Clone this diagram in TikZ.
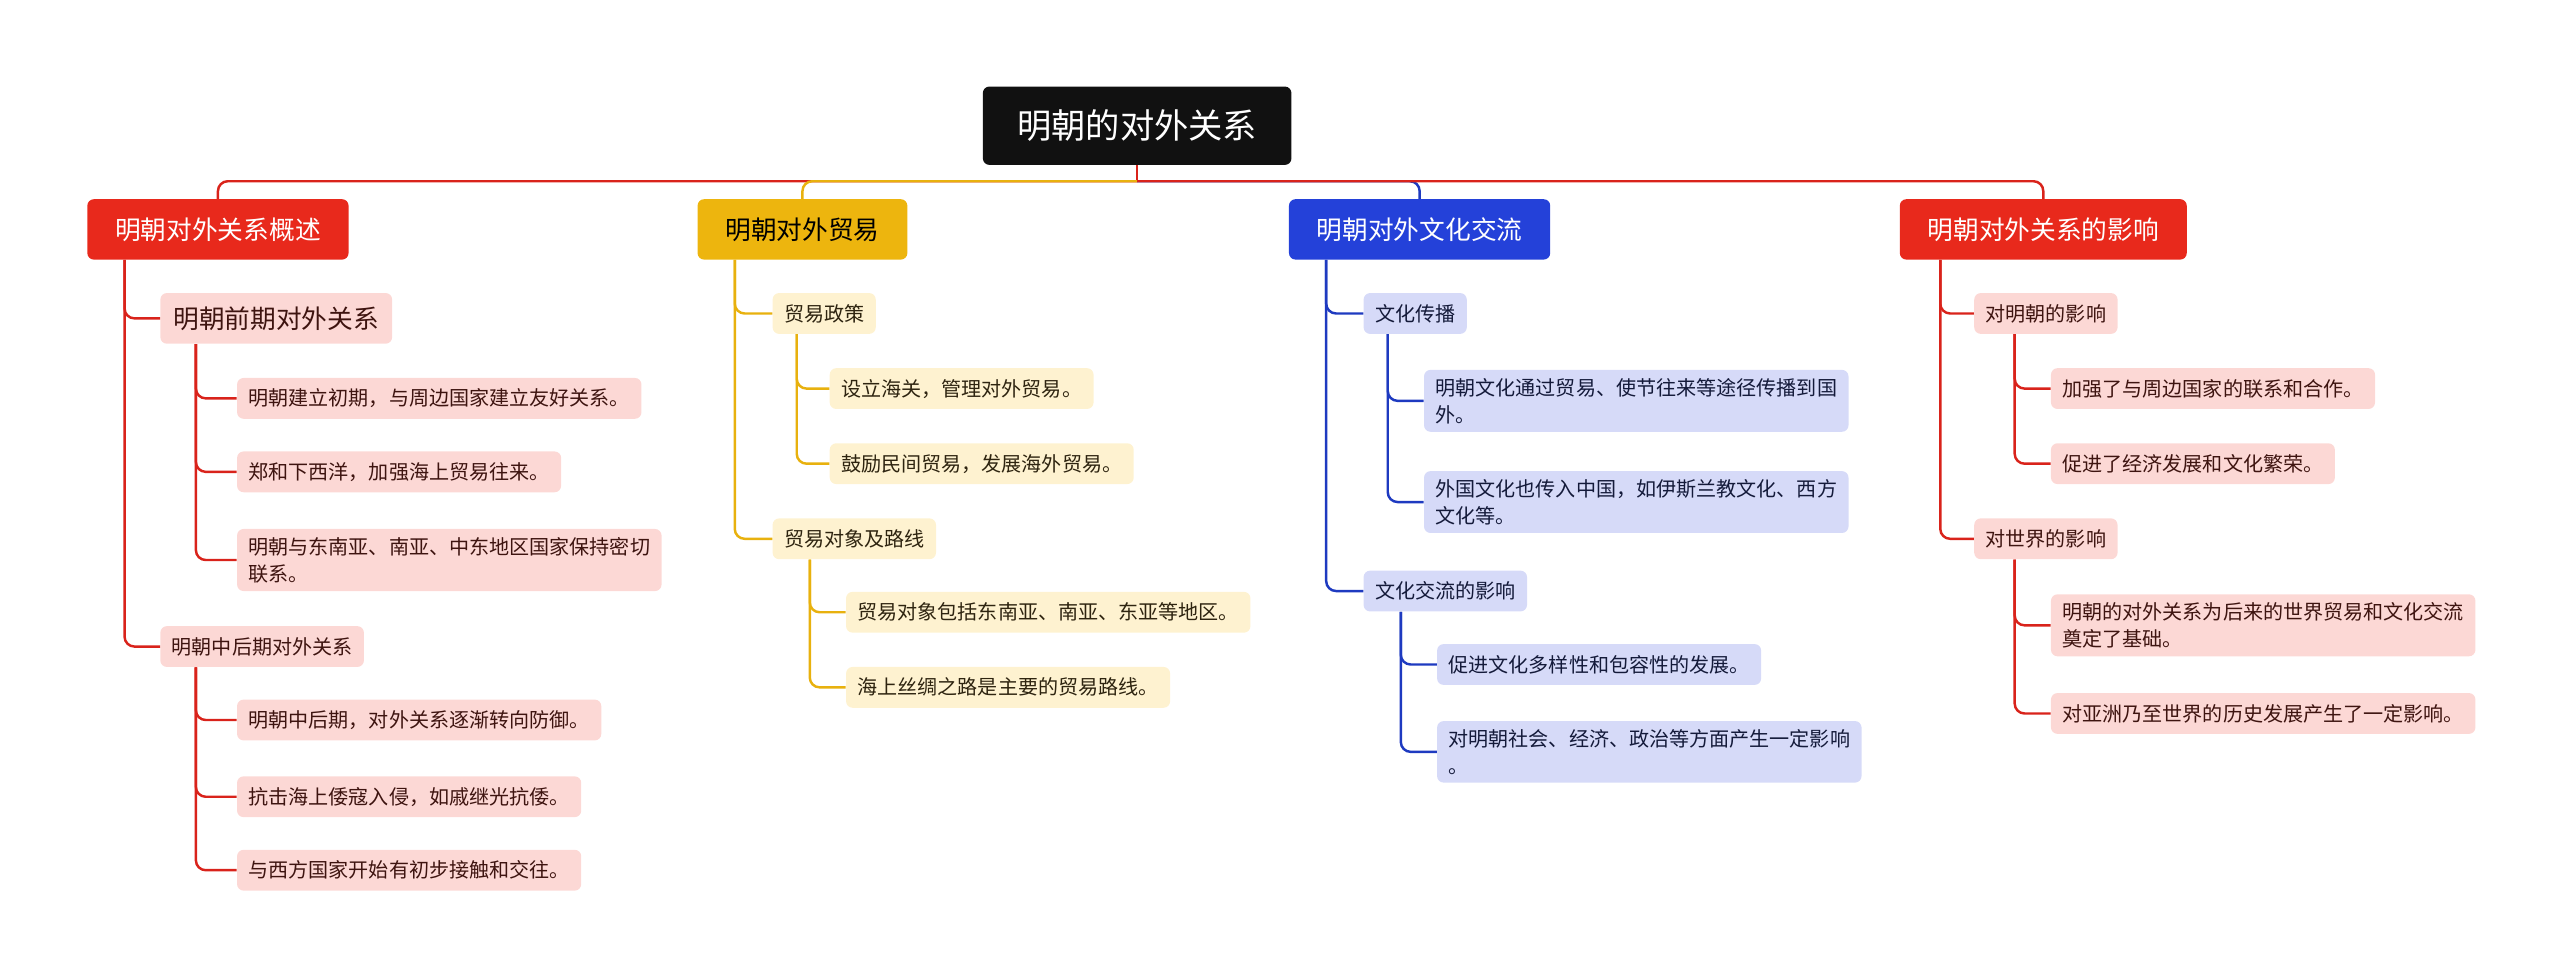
\documentclass[tikz,border=0pt]{standalone}
\usepackage{fontspec}
\setmainfont{Noto Sans CJK SC}
\definecolor{rootc}{HTML}{111111}
\definecolor{redb}{HTML}{E8291C}
\definecolor{yelb}{HTML}{EDB50E}
\definecolor{blub}{HTML}{2441D9}
\definecolor{redl}{HTML}{FCD8D5}
\definecolor{yell}{HTML}{FEF2D0}
\definecolor{blul}{HTML}{D6DAF8}
\definecolor{redline}{HTML}{D9231B}
\definecolor{yelline}{HTML}{E8B10E}
\definecolor{bluline}{HTML}{1E3AC0}
\definecolor{redtxt}{HTML}{3E1410}
\definecolor{yeltxt}{HTML}{2E2410}
\definecolor{blutxt}{HTML}{141A3A}
\begin{document}
\begin{tikzpicture}[x=1pt,y=-1pt,
  rootbox/.style={fill=rootc,text=white,rounded corners=4pt,minimum width=189pt,minimum height=48pt,font=\fontsize{21}{25}\selectfont},
  brbox/.style={rounded corners=4pt,minimum height=37pt,inner xsep=17pt,text=white,font=\fontsize{15.75}{19}\selectfont},
  bigsub/.style={rounded corners=4pt,minimum height=31pt,inner xsep=8pt,font=\fontsize{15.75}{19}\selectfont,anchor=west},
  leafbox/.style={rounded corners=4pt,minimum height=25pt,inner xsep=7pt,inner ysep=5pt,align=left,font=\fontsize{12.3}{16.5}\selectfont,anchor=west},
  rl/.style={leafbox,fill=redl,text=redtxt},
  yl/.style={leafbox,fill=yell,text=yeltxt},
  bl/.style={leafbox,fill=blul,text=blutxt},
  con/.style={line width=1.5pt,rounded corners=6pt},
  rcon/.style={con,draw=redline},
  ycon/.style={con,draw=yelline},
  bcon/.style={con,draw=bluline}
]
\useasboundingbox (0,0) rectangle (1568,600);

% root
\node[rootbox] (root) at (696.5,77) {明朝的对外关系};
\coordinate (j) at (696.5,111);

% main branches
\node[brbox,fill=redb] (b1) at (133.5,140.5) {明朝对外关系概述};
\node[brbox,fill=yelb,text=black] (b2) at (491.5,140.5) {明朝对外贸易};
\node[brbox,fill=blub] (b3) at (869.5,140.5) {明朝对外文化交流};
\node[brbox,fill=redb] (b4) at (1251.5,140.5) {明朝对外关系的影响};

\draw[rcon] (root.south) -- (j);
\draw[rcon] (j) -| (b1.north);
\draw[ycon] (j) -| (b2.north);
\draw[bcon] (j) -| (b3.north);
\draw[rcon] (j) -| (b4.north);

% branch 1
\node[bigsub,fill=redl,text=redtxt] (s11) at (98,195) {明朝前期对外关系};
\node[rl] (l111) at (145,244) {明朝建立初期，与周边国家建立友好关系。};
\node[rl] (l112) at (145,289) {郑和下西洋，加强海上贸易往来。};
\node[rl] (l113) at (145,343) {明朝与东南亚、南亚、中东地区国家保持密切\\联系。};
\node[rl] (s12) at (98,396) {明朝中后期对外关系};
\node[rl] (l121) at (145,441) {明朝中后期，对外关系逐渐转向防御。};
\node[rl] (l122) at (145,488) {抗击海上倭寇入侵，如戚继光抗倭。};
\node[rl] (l123) at (145,533) {与西方国家开始有初步接触和交往。};

\draw[rcon] ([xshift=23pt]b1.south west) |- (s11.west);
\draw[rcon] ([xshift=23pt]b1.south west) |- (s12.west);
\draw[rcon] ([xshift=22pt]s11.south west) |- (l111.west);
\draw[rcon] ([xshift=22pt]s11.south west) |- (l112.west);
\draw[rcon] ([xshift=22pt]s11.south west) |- (l113.west);
\draw[rcon] ([xshift=22pt]s12.south west) |- (l121.west);
\draw[rcon] ([xshift=22pt]s12.south west) |- (l122.west);
\draw[rcon] ([xshift=22pt]s12.south west) |- (l123.west);

% branch 2
\node[yl] (s21) at (473,192) {贸易政策};
\node[yl] (l211) at (508,238) {设立海关，管理对外贸易。};
\node[yl] (l212) at (508,284) {鼓励民间贸易，发展海外贸易。};
\node[yl] (s22) at (473,330) {贸易对象及路线};
\node[yl] (l221) at (518,375) {贸易对象包括东南亚、南亚、东亚等地区。};
\node[yl] (l222) at (518,421) {海上丝绸之路是主要的贸易路线。};

\draw[ycon] ([xshift=23pt]b2.south west) |- (s21.west);
\draw[ycon] ([xshift=23pt]b2.south west) |- (s22.west);
\draw[ycon] ([xshift=15pt]s21.south west) |- (l211.west);
\draw[ycon] ([xshift=15pt]s21.south west) |- (l212.west);
\draw[ycon] ([xshift=23pt]s22.south west) |- (l221.west);
\draw[ycon] ([xshift=23pt]s22.south west) |- (l222.west);

% branch 3
\node[bl] (s31) at (835,192) {文化传播};
\node[bl] (l311) at (872,245.5) {明朝文化通过贸易、使节往来等途径传播到国\\外。};
\node[bl] (l312) at (872,307.5) {外国文化也传入中国，如伊斯兰教文化、西方\\文化等。};
\node[bl] (s32) at (835,362) {文化交流的影响};
\node[bl] (l321) at (880,407) {促进文化多样性和包容性的发展。};
\node[bl] (l322) at (880,460.5) {对明朝社会、经济、政治等方面产生一定影响\\。};

\draw[bcon] ([xshift=23pt]b3.south west) |- (s31.west);
\draw[bcon] ([xshift=23pt]b3.south west) |- (s32.west);
\draw[bcon] ([xshift=15pt]s31.south west) |- (l311.west);
\draw[bcon] ([xshift=15pt]s31.south west) |- (l312.west);
\draw[bcon] ([xshift=23pt]s32.south west) |- (l321.west);
\draw[bcon] ([xshift=23pt]s32.south west) |- (l322.west);

% branch 4
\node[rl] (s41) at (1209,192) {对明朝的影响};
\node[rl] (l411) at (1256,238) {加强了与周边国家的联系和合作。};
\node[rl] (l412) at (1256,284) {促进了经济发展和文化繁荣。};
\node[rl] (s42) at (1209,330) {对世界的影响};
\node[rl] (l421) at (1256,383) {明朝的对外关系为后来的世界贸易和文化交流\\奠定了基础。};
\node[rl] (l422) at (1256,437) {对亚洲乃至世界的历史发展产生了一定影响。};

\draw[rcon] ([xshift=25pt]b4.south west) |- (s41.west);
\draw[rcon] ([xshift=25pt]b4.south west) |- (s42.west);
\draw[rcon] ([xshift=25pt]s41.south west) |- (l411.west);
\draw[rcon] ([xshift=25pt]s41.south west) |- (l412.west);
\draw[rcon] ([xshift=25pt]s42.south west) |- (l421.west);
\draw[rcon] ([xshift=25pt]s42.south west) |- (l422.west);
\end{tikzpicture}
\end{document}
